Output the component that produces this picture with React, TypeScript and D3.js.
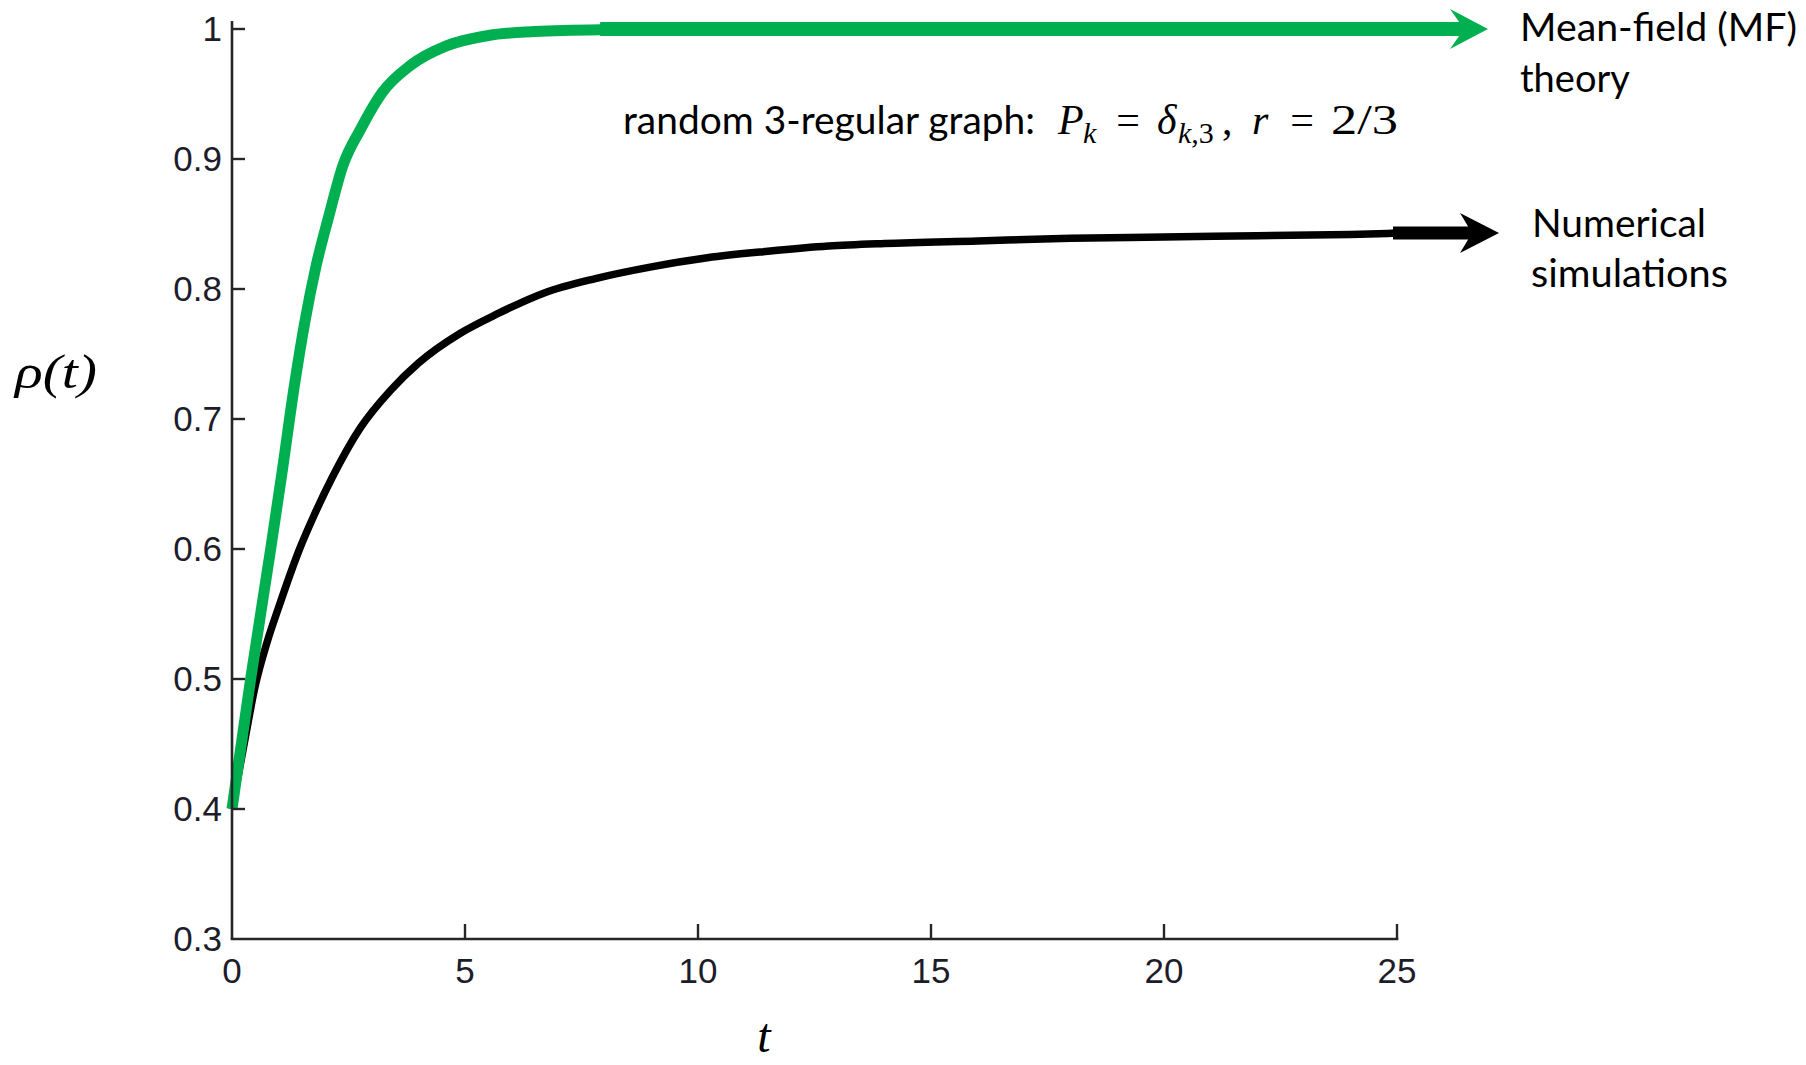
import React from "react";
import * as d3 from "d3";

// ---- data ----
const mfT = [0, 0.4, 0.83, 1.07, 1.34, 1.57, 1.8, 2.07, 2.38, 2.76, 3.22, 3.83, 4.6, 5.5, 6.5, 7.9, 10, 15, 20, 25];
const mfRho = [0.4, 0.5, 0.6, 0.658, 0.726, 0.776, 0.817, 0.855, 0.895, 0.923, 0.951, 0.972, 0.987, 0.995, 0.998, 0.9995, 1, 1, 1, 1];

const simT = [0, 0.25, 0.5, 0.75, 1.0, 1.45, 1.75, 2.15, 2.75, 3.4, 4.0, 4.9, 5.7, 6.7, 7.8, 9.0, 10.2, 11.5, 12.8, 14, 16, 18, 20, 22, 24, 25];
const simRho = [0.4, 0.448, 0.495, 0.528, 0.555, 0.6, 0.625, 0.655, 0.693, 0.722, 0.743, 0.766, 0.781, 0.797, 0.808, 0.817, 0.824, 0.829, 0.833, 0.835, 0.837, 0.839, 0.84, 0.841, 0.842, 0.843];

const xTicks = [0, 5, 10, 15, 20, 25];
const yTicks = [0.3, 0.4, 0.5, 0.6, 0.7, 0.8, 0.9, 1];
const yTickLabels = ["0.3", "0.4", "0.5", "0.6", "0.7", "0.8", "0.9", "1"];

const GREEN = "#00B050";
const AXIS = "#262626";
const SANS = "Lato, 'Open Sans', sans-serif";
const SERIF = "'Liberation Serif', 'DejaVu Serif', serif";
const TICKFONT = "'Liberation Sans', Arial, sans-serif";

export default function App() {
  const W = 1806;
  const H = 1065;
  const x = d3.scaleLinear().domain([0, 25]).range([232, 1397]);
  const y = d3.scaleLinear().domain([0.3, 1]).range([939, 29]);

  const line = d3
    .line<[number, number]>()
    .x((d) => x(d[0]))
    .y((d) => y(d[1]))
    .curve(d3.curveMonotoneX);

  const mfPts: [number, number][] = mfT.map((t, i) => [t, mfRho[i]]);
  const simPts: [number, number][] = simT.map((t, i) => [t, simRho[i]]);

  const gY = y(1);
  const bY = y(simRho[simRho.length - 1]);

  return (
    <svg
      width={W}
      height={H}
      style={{ position: "absolute", left: 0, top: 0, background: "#fff" }}
    >
      <rect x={0} y={0} width={W} height={H} fill="#fff" />
      {/* curves */}
      <path d={line(simPts) || ""} fill="none" stroke="#000" strokeWidth={7.5} strokeLinejoin="round" />
      <path d={line(mfPts) || ""} fill="none" stroke={GREEN} strokeWidth={11} strokeLinejoin="round" />

      {/* axes */}
      <line x1={x(0)} x2={x(0)} y1={y(0.3)} y2={21} stroke={AXIS} strokeWidth={2.6} />
      <line x1={x(0) - 1.3} x2={x(25) + 1.3} y1={y(0.3)} y2={y(0.3)} stroke={AXIS} strokeWidth={2.6} />
      {yTicks.map((v, i) => (
        <g key={"yt" + i}>
          {i > 0 && <line x1={x(0)} x2={x(0) + 13} y1={y(v)} y2={y(v)} stroke={AXIS} strokeWidth={2.4} />}
          <text x={222} y={y(v) + 12} textAnchor="end" fontFamily={TICKFONT} fontSize={35} fill="#1c1c2a">
            {yTickLabels[i]}
          </text>
        </g>
      ))}
      {xTicks.map((v, i) => (
        <g key={"xt" + i}>
          {i > 0 && <line x1={x(v)} x2={x(v)} y1={y(0.3)} y2={y(0.3) - 15} stroke={AXIS} strokeWidth={2.4} />}
          <text x={x(v)} y={y(0.3) + 44} textAnchor="middle" fontFamily={TICKFONT} fontSize={35} fill="#1c1c2a">
            {v}
          </text>
        </g>
      ))}

      {/* axis labels */}
      <text x={15} y={388} fontFamily={SERIF} fontStyle="italic" fontSize={48} fill="#000" textLength={82} lengthAdjust="spacingAndGlyphs">
        ρ(t)
      </text>
      <text x={764} y={1052} textAnchor="middle" fontFamily={SERIF} fontStyle="italic" fontSize={48} fill="#000">
        t
      </text>

      {/* green arrow */}
      <line x1={x(7.9)} x2={1466} y1={gY} y2={gY} stroke={GREEN} strokeWidth={14} />
      <polygon points={`1488,${gY} 1450,${gY - 20} 1464,${gY} 1450,${gY + 20}`} fill={GREEN} />

      {/* black arrow */}
      <line x1={x(25) - 4} x2={1474} y1={bY} y2={bY} stroke="#000" strokeWidth={13} />
      <polygon points={`1499,${bY} 1460,${bY - 20} 1472,${bY} 1460,${bY + 20}`} fill="#000" />

      {/* series labels */}
      <text fontFamily={SANS} fontSize={38} fill="#000">
        <tspan x={1520} y={41} textLength={277} lengthAdjust="spacingAndGlyphs">Mean-field (MF)</tspan>
        <tspan x={1520} y={92}>theory</tspan>
      </text>
      <text fontFamily={SANS} fontSize={38} fill="#000">
        <tspan x={1532} y={237} textLength={174} lengthAdjust="spacingAndGlyphs">Numerical</tspan>
        <tspan x={1531} y={287} textLength={197} lengthAdjust="spacingAndGlyphs">simulations</tspan>
      </text>

      {/* annotation */}
      <text x={623} y={134} fontFamily={SANS} fontSize={38} fill="#000" textLength={412} lengthAdjust="spacingAndGlyphs">
        random 3-regular graph:
      </text>
      <g fontFamily={SERIF} fill="#000">
        <text x={1058} y={134} fontSize={42} fontStyle="italic">P</text>
        <text x={1083} y={143} fontSize={30} fontStyle="italic">k</text>
        <text x={1128} y={134} fontSize={42} textAnchor="middle">=</text>
        <text x={1157} y={134} fontSize={42} fontStyle="italic">δ</text>
        <text x={1178} y={143} fontSize={30} fontStyle="italic">k<tspan fontStyle="normal">,3</tspan></text>
        <text x={1222} y={134} fontSize={42}>,</text>
        <text x={1252} y={134} fontSize={42} fontStyle="italic">r</text>
        <text x={1302} y={134} fontSize={42} textAnchor="middle">=</text>
        <text x={1331} y={134} fontSize={42} textLength={67} lengthAdjust="spacingAndGlyphs">2/3</text>
      </g>
    </svg>
  );
}
